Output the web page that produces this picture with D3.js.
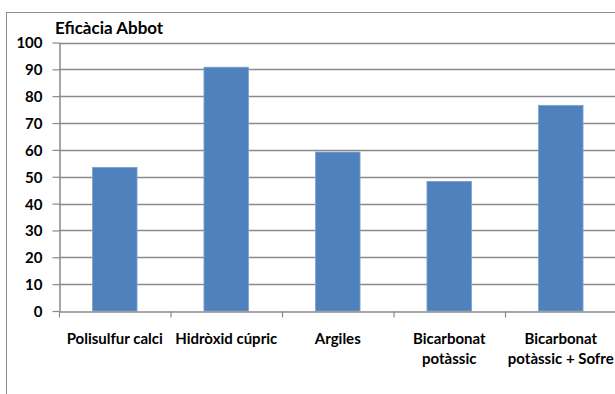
<!DOCTYPE html>
<html>
<head>
<meta charset="utf-8">
<script src="https://cdn.jsdelivr.net/npm/d3@7"></script>
<style>
  html, body { margin: 0; padding: 0; background: #fff; }
  svg { display: block; }
  text { font-family: Lato, "Open Sans", sans-serif; font-weight: bold; fill: #000; }
</style>
</head>
<body>
<svg id="chart" width="615" height="394"></svg>
<script>
// Abbot efficacy per treatment
const categories = [
  ["Polisulfur calci"],
  ["Hidròxid cúpric"],
  ["Argiles"],
  ["Bicarbonat", "potàssic"],
  ["Bicarbonat", "potàssic + Sofre"]
];
const efficacy = [53.5, 90.8, 59.2, 48.3, 76.6];
const yTicks = [0, 10, 20, 30, 40, 50, 60, 70, 80, 90, 100];
const chartTitle = "Eficàcia Abbot";

const svg = d3.select("#chart");
const gridColor = "#8a8a8a";

// outer chart frame (runs past the right and bottom edges)
svg.append("rect")
  .attr("x", 6.5).attr("y", 12.5)
  .attr("width", 700).attr("height", 500)
  .attr("fill", "#fff")
  .attr("stroke", "#8e8e8e").attr("stroke-width", 1);

const plot = { left: 59, top: 42.5, bottom: 311, band: 111.5 };
plot.right = plot.left + plot.band * categories.length;

const x = d3.scaleBand()
  .domain(d3.range(categories.length))
  .range([plot.left, plot.right])
  .paddingInner(0.6).paddingOuter(0.3);

const y = d3.scaleLinear().domain([0, 100]).range([plot.bottom, plot.top]);

// horizontal gridlines
svg.append("g")
  .selectAll("line")
  .data(yTicks.filter(t => t > 0))
  .join("line")
  .attr("x1", plot.left).attr("x2", plot.right)
  .attr("y1", d => Math.round(y(d)) + 0.5).attr("y2", d => Math.round(y(d)) + 0.5)
  .attr("stroke", gridColor).attr("stroke-width", 1.5);

// bars
svg.append("g")
  .selectAll("rect")
  .data(efficacy)
  .join("rect")
  .attr("x", (d, i) => x(i))
  .attr("width", x.bandwidth())
  .attr("y", d => y(d))
  .attr("height", d => y(0) - y(d))
  .attr("fill", "#4f81bd")
  .attr("stroke", "#7ea3d0").attr("stroke-width", 0.8);

// y axis
const yAxis = d3.axisLeft(y).tickValues(yTicks).tickSize(7).tickPadding(10).tickSizeOuter(0);
const gy = svg.append("g")
  .attr("transform", `translate(${plot.left + 0.5},0)`)
  .call(yAxis);
gy.select(".domain").attr("stroke", gridColor).attr("stroke-width", 1.5);
gy.selectAll(".tick line").attr("stroke", gridColor).attr("stroke-width", 1.2);
gy.selectAll(".tick text")
  .attr("font-family", "Lato, sans-serif")
  .attr("font-size", 15).attr("font-weight", "bold").attr("fill", "#000")
  .attr("dy", "0.36em");

// x axis baseline and category ticks
const xScaleEdges = d3.scaleLinear().domain([0, categories.length]).range([plot.left, plot.right]);
const xAxis = d3.axisBottom(xScaleEdges).tickValues(d3.range(categories.length + 1))
  .tickSize(6).tickSizeOuter(0).tickFormat("");
const gx = svg.append("g")
  .attr("transform", `translate(0,${plot.bottom + 0.5})`)
  .call(xAxis);
gx.select(".domain").attr("stroke", gridColor).attr("stroke-width", 1.5);
gx.selectAll(".tick line").attr("stroke", gridColor).attr("stroke-width", 1.2);

// category labels (wrapped over two lines where needed)
const labels = svg.append("g")
  .selectAll("text")
  .data(categories)
  .join("text")
  .attr("text-anchor", "middle")
  .attr("font-size", 15);
labels.selectAll("tspan")
  .data((d, i) => d.map((line, j) => ({ line, j, i })))
  .join("tspan")
  .attr("x", d => x(d.i) + x.bandwidth() / 2)
  .attr("y", d => 344 + d.j * 19.5)
  .text(d => d.line);

// chart title
svg.append("text")
  .attr("x", 55).attr("y", 34)
  .attr("font-size", 17)
  .text(chartTitle);
</script>
</body>
</html>
